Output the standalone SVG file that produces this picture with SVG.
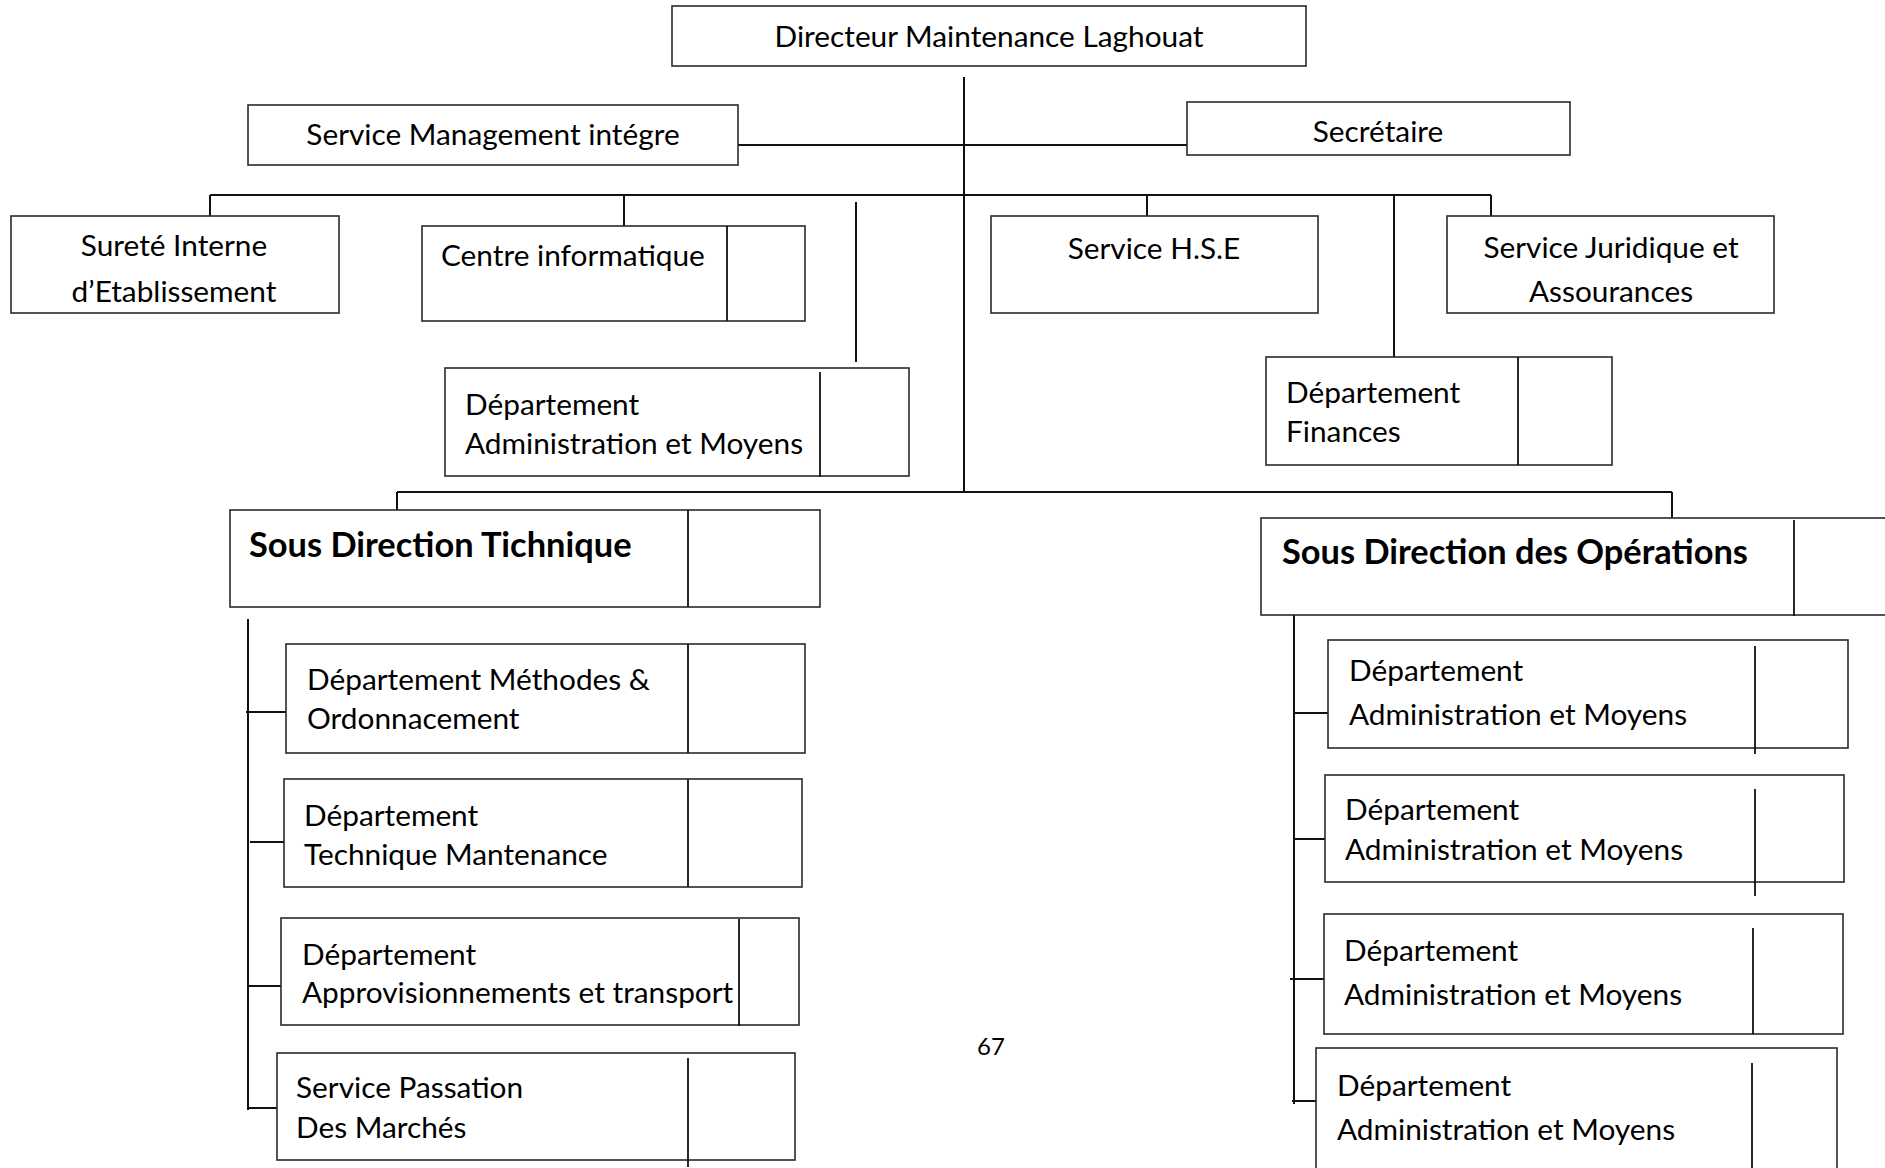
<svg xmlns="http://www.w3.org/2000/svg" width="1885" height="1168" viewBox="0 0 1885 1168">
<style>
.box{fill:#fff;stroke:#2a2a2a;stroke-width:1.6}
.div{stroke:#111;stroke-width:1.8}
.con line{stroke:#111;stroke-width:2}
text{font-family:Lato,"Open Sans",sans-serif;font-size:29.8px;fill:#000}
.b{font-weight:bold;font-size:34.4px}
.c{text-anchor:middle}
</style>
<rect width="1885" height="1168" fill="#fff"/>
<g class="con" id="connectors">
<line x1="964" y1="77" x2="964" y2="492"/>
<line x1="738" y1="145" x2="1187" y2="145"/>
<line x1="210" y1="195" x2="1491" y2="195"/>
<line x1="210" y1="195" x2="210" y2="226"/>
<line x1="624" y1="195" x2="624" y2="226"/>
<line x1="1147" y1="195" x2="1147" y2="224"/>
<line x1="1491" y1="195" x2="1491" y2="226"/>
<line x1="856" y1="202" x2="856" y2="362"/>
<line x1="1394" y1="195" x2="1394" y2="364"/>
<line x1="397" y1="492" x2="1672" y2="492"/>
<line x1="397" y1="492" x2="397" y2="510"/>
<line x1="1672" y1="492" x2="1672" y2="518"/>
<line x1="248" y1="619" x2="248" y2="1110"/>
<line x1="246" y1="712" x2="286" y2="712"/>
<line x1="250" y1="842" x2="286" y2="842"/>
<line x1="248" y1="986" x2="281" y2="986"/>
<line x1="248" y1="1108" x2="277" y2="1108"/>
<line x1="1294" y1="615" x2="1294" y2="1104"/>
<line x1="1294" y1="713" x2="1328" y2="713"/>
<line x1="1294" y1="839" x2="1325" y2="839"/>
<line x1="1290" y1="979" x2="1324" y2="979"/>
<line x1="1292" y1="1101" x2="1316" y2="1101"/>
</g>
<g id="directeur"><rect class="box" x="672" y="6" width="634" height="60"/><text class="c" x="989" y="47">Directeur Maintenance Laghouat</text></g>
<g id="management"><rect class="box" x="248" y="105" width="490" height="60"/><text class="c" x="493" y="145">Service Management intégre</text></g>
<g id="secretaire"><rect class="box" x="1187" y="102" width="383" height="53"/><text class="c" x="1378" y="142">Secrétaire</text></g>
<g id="surete"><rect class="box" x="11" y="216" width="328" height="97"/><text class="c" x="174" y="256">Sureté Interne</text><text class="c" x="174" y="302">d’Etablissement</text></g>
<g id="informatique"><rect class="box" x="422" y="226" width="383" height="95"/><line class="div" x1="727" y1="226" x2="727" y2="321"/><text x="441" y="266">Centre informatique</text></g>
<g id="admin-moyens"><rect class="box" x="445" y="368" width="464" height="108"/><line class="div" x1="820" y1="372" x2="820" y2="477"/><text x="465" y="415">Département</text><text x="465" y="454">Administration et Moyens</text></g>
<g id="hse"><rect class="box" x="991" y="216" width="327" height="97"/><text class="c" x="1154" y="259">Service H.S.E</text></g>
<g id="juridique"><rect class="box" x="1447" y="216" width="327" height="97"/><text class="c" x="1611" y="258">Service Juridique et</text><text class="c" x="1611" y="302">Assourances</text></g>
<g id="finances"><rect class="box" x="1266" y="357" width="346" height="108"/><line class="div" x1="1518" y1="357" x2="1518" y2="465"/><text x="1286" y="403">Département</text><text x="1286" y="442">Finances</text></g>
<g id="sd-technique"><rect class="box" x="230" y="510" width="590" height="97"/><line class="div" x1="688" y1="510" x2="688" y2="607"/><text class="b" x="249" y="557">Sous Direction Tichnique</text></g>
<g id="sd-operations"><rect class="box" x="1261" y="518" width="640" height="97"/><line class="div" x1="1794" y1="520" x2="1794" y2="616"/><text class="b" x="1282" y="564">Sous Direction des Opérations</text></g>
<g id="methodes"><rect class="box" x="286" y="644" width="519" height="109"/><line class="div" x1="688" y1="644" x2="688" y2="753"/><text x="307" y="690">Département Méthodes &amp;</text><text x="307" y="729">Ordonnacement</text></g>
<g id="technique"><rect class="box" x="284" y="779" width="518" height="108"/><line class="div" x1="688" y1="779" x2="688" y2="887"/><text x="304" y="826">Département</text><text x="304" y="865">Technique Mantenance</text></g>
<g id="approvisionnements"><rect class="box" x="281" y="918" width="518" height="107"/><line class="div" x1="739" y1="919" x2="739" y2="1026"/><text x="302" y="965">Département</text><text x="302" y="1003">Approvisionnements et transport</text></g>
<g id="passation"><rect class="box" x="277" y="1053" width="518" height="107"/><line class="div" x1="688" y1="1058" x2="688" y2="1167"/><text x="296" y="1098">Service Passation</text><text x="296" y="1138">Des Marchés</text></g>
<g id="op-dept-1"><rect class="box" x="1328" y="640" width="520" height="108"/><line class="div" x1="1755" y1="646" x2="1755" y2="754"/><text x="1349" y="681">Département</text><text x="1349" y="725">Administration et Moyens</text></g>
<g id="op-dept-2"><rect class="box" x="1325" y="775" width="519" height="107"/><line class="div" x1="1755" y1="789" x2="1755" y2="896"/><text x="1345" y="820">Département</text><text x="1345" y="860">Administration et Moyens</text></g>
<g id="op-dept-3"><rect class="box" x="1324" y="914" width="519" height="120"/><line class="div" x1="1753" y1="928" x2="1753" y2="1034"/><text x="1344" y="961">Département</text><text x="1344" y="1005">Administration et Moyens</text></g>
<g id="op-dept-4"><rect class="box" x="1316" y="1048" width="521" height="130"/><line class="div" x1="1752" y1="1063" x2="1752" y2="1170"/><text x="1337" y="1096">Département</text><text x="1337" y="1140">Administration et Moyens</text></g>
<text class="c" x="991" y="1055" style="font-size:24px">67</text>
</svg>
